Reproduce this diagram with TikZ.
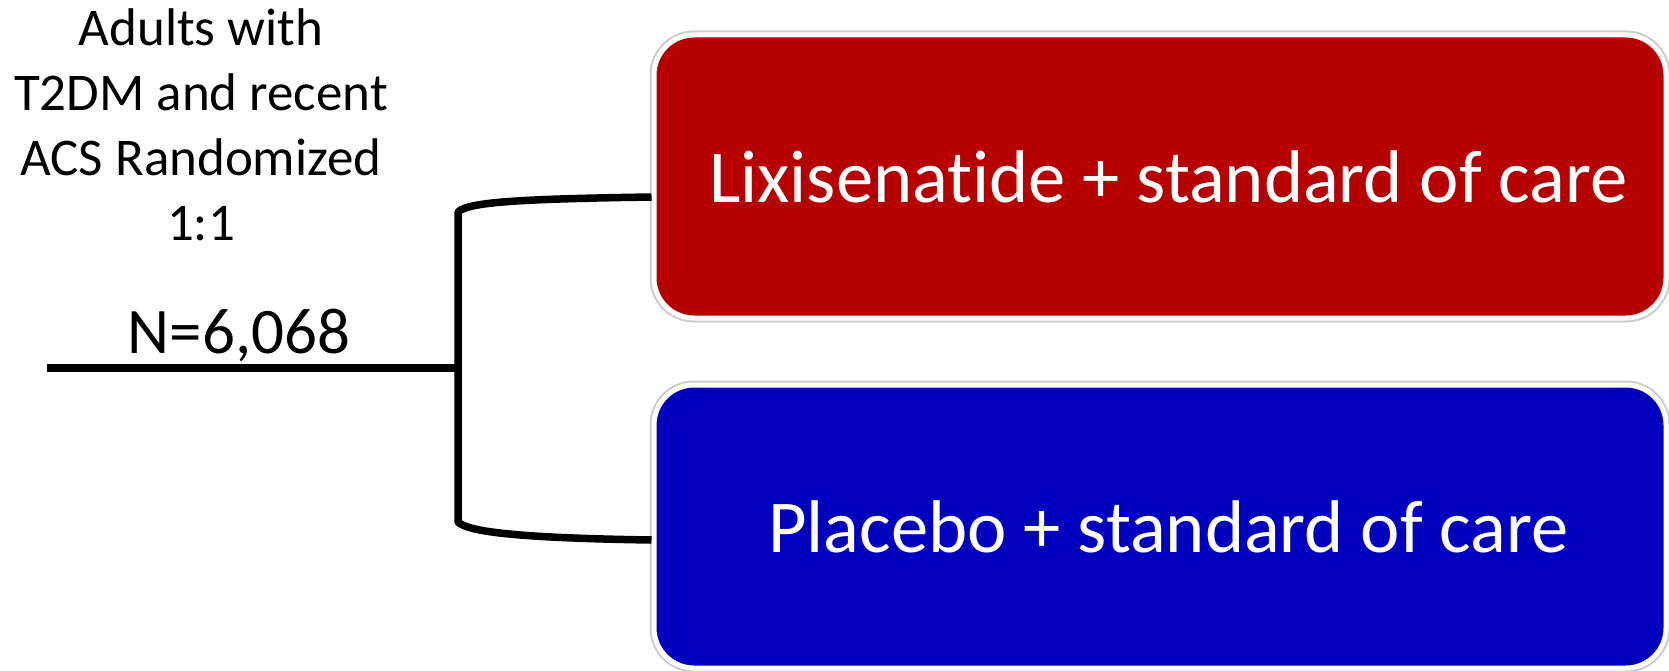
\documentclass[tikz,border=0pt]{standalone}
\usepackage{fontspec}
\setmainfont[Ligatures=NoCommon]{Carlito}
\definecolor{armred}{RGB}{182,0,0}
\definecolor{armblue}{RGB}{0,0,190}
\tikzset{
  armbox/.style={rectangle, rounded corners=40pt, draw=white, line width=5pt,
    minimum width=1012pt, minimum height=283pt, inner sep=0pt,
    text=white, font=\fontsize{74.6}{90}\selectfont,
    execute at begin node={\hspace*{17pt}},
    preaction={draw=black!20, line width=9pt}},
  bracket/.style={line width=7.5pt, line join=round, line cap=butt},
}
\begin{document}
\begin{tikzpicture}[x=1pt,y=-1pt]
\useasboundingbox (0,0) rectangle (1669,671);
\node[anchor=north, align=center, inner sep=0pt,
      font=\fontsize{53}{65}\selectfont] (desc) at (201,8)
  {Adults with\\T2DM and recent\\ACS Randomized\\1:1};
\node[anchor=base, inner sep=0pt, font=\fontsize{65}{78}\selectfont] (nn) at (239,353) {N=6,068};
\node[armbox, fill=armred] (lixi) at (1160,176.5) {Lixisenatide + standard of care};
\node[armbox, fill=armblue] (plac) at (1160,526.5) {Placebo + standard of care};
\coordinate (start) at (47,368);
\coordinate (junc) at (458,368);
\draw[bracket] (start) -- (junc);
\draw[bracket] ([yshift=-20.5pt]lixi.west) .. controls (520,199) and (468,202) .. (458,212)
  -- (458,522) .. controls (468,532) and (520,538) .. ([yshift=-13.5pt]plac.west);
\end{tikzpicture}
\end{document}
